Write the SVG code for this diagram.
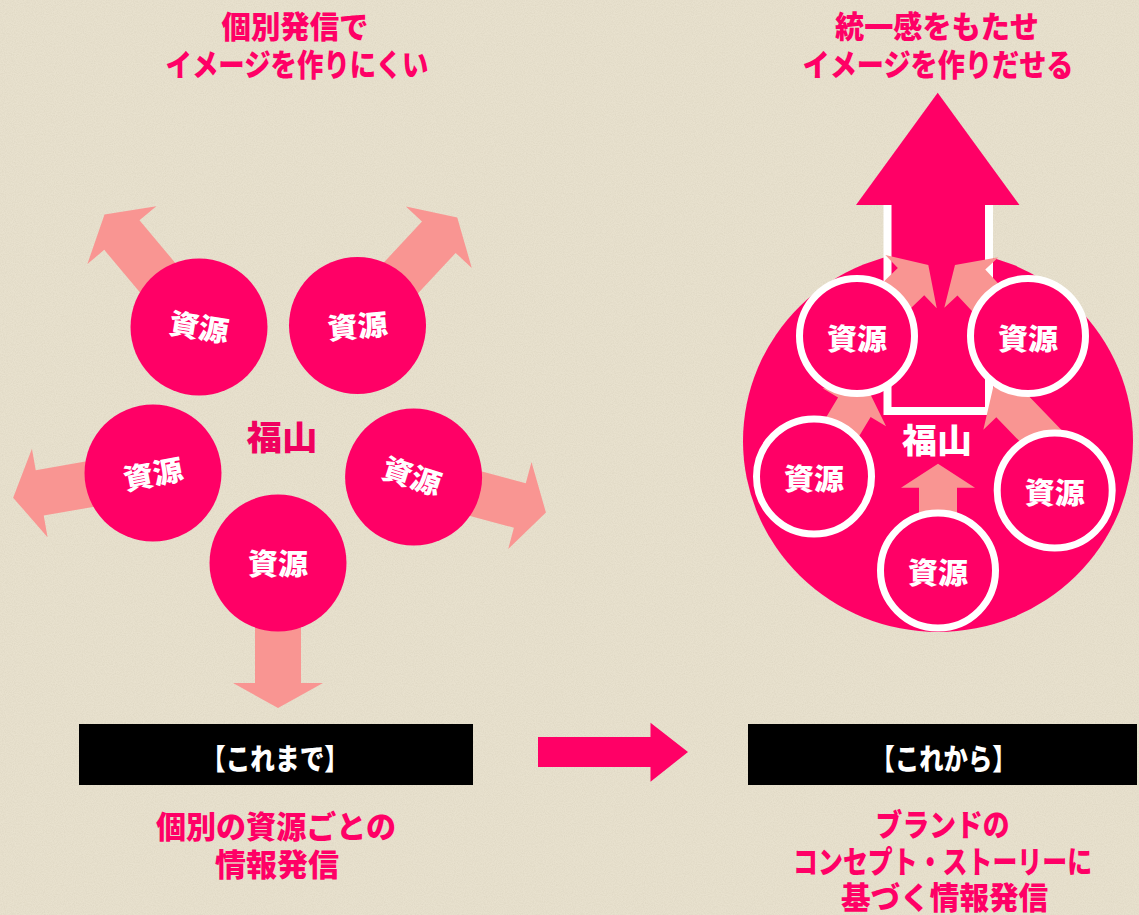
<svg xmlns="http://www.w3.org/2000/svg" width="1139" height="915" viewBox="0 0 1139 915">
<defs>
<style>
.lbl{font-family:"Noto Sans CJK JP","Noto Sans CJK SC",sans-serif;font-weight:900;fill:#ff0066;font-size:31px;text-anchor:middle}
.box{font-family:"Noto Sans CJK JP","Noto Sans CJK SC",sans-serif;font-weight:900;fill:#ffffff;font-size:29px;text-anchor:middle}
.res{font-family:"Noto Sans CJK JP","Noto Sans CJK SC",sans-serif;font-weight:900;fill:#ffffff;font-size:29px;text-anchor:middle}
.fk{font-family:"Noto Sans CJK JP","Noto Sans CJK SC",sans-serif;font-weight:900;font-size:34px;text-anchor:middle}
.pink{fill:#ff0066}
.salmon{fill:#f99592}
.ring{fill:#ff0066;stroke:#ffffff;stroke-width:7}
</style>
<filter id="paper" x="0" y="0" width="100%" height="100%">
<feTurbulence type="fractalNoise" baseFrequency="0.9" numOctaves="2" seed="3" result="n"/>
<feColorMatrix type="matrix" values="0 0 0 0 0.55  0 0 0 0 0.5  0 0 0 0 0.38  0 0 0 -1.1 0.75"/>
</filter>
</defs>
<rect width="1139" height="915" fill="#e8e1ce"/>
<rect width="1139" height="915" filter="url(#paper)" opacity="0.35"/>

<!-- Left: connectors (outward arrows) -->
<g id="left-arrows" class="salmon">
<polygon transform="translate(199,327) rotate(-130)" points="0,-23 120,-23 120,-45 147,0 120,45 120,23 0,23"/>
<polygon transform="translate(357,325) rotate(-47)" points="0,-23 120,-23 120,-45 147,0 120,45 120,23 0,23"/>
<polygon transform="translate(153,473) rotate(170)" points="0,-23 115,-23 115,-45 142,0 115,45 115,23 0,23"/>
<polygon transform="translate(413.6,477) rotate(15)" points="0,-23 110,-23 110,-45 137,0 110,45 110,23 0,23"/>
<polygon transform="translate(278,563) rotate(90)" points="0,-23 120,-23 120,-45 145,0 120,45 120,23 0,23"/>
</g>

<g id="left-res-tl"><circle class="pink" cx="199" cy="327" r="68.5"/><text class="res" transform="translate(199,327) rotate(9)" x="0" y="11" textLength="60" lengthAdjust="spacingAndGlyphs">資源</text></g>
<g id="left-res-tr"><circle class="pink" cx="357.5" cy="325.5" r="68.5"/><text class="res" transform="translate(357.5,326) rotate(-5)" x="0" y="11" textLength="60" lengthAdjust="spacingAndGlyphs">資源</text></g>
<g id="left-res-l"><circle class="pink" cx="153" cy="473" r="68.5"/><text class="res" transform="translate(153,474) rotate(-11)" x="0" y="11" textLength="60" lengthAdjust="spacingAndGlyphs">資源</text></g>
<g id="left-res-r"><circle class="pink" cx="413.6" cy="477" r="68.5"/><text class="res" transform="translate(412,476) rotate(18)" x="0" y="11" textLength="60" lengthAdjust="spacingAndGlyphs">資源</text></g>
<g id="left-res-b"><circle class="pink" cx="278" cy="563" r="68.5"/><text class="res" x="278" y="575" textLength="60" lengthAdjust="spacingAndGlyphs">資源</text></g>
<g id="left-fukuyama"><text class="fk" x="282" y="450" fill="#f0005f" textLength="71" lengthAdjust="spacingAndGlyphs">福山</text></g>

<!-- Right: big circle and arrow -->
<g id="right-fukuyama-area">
<ellipse class="pink" cx="938" cy="441" rx="195" ry="191"/>
</g>
<g id="big-arrow">
<rect x="887.5" y="200" width="101.5" height="211" fill="#ff0066" stroke="#ffffff" stroke-width="8"/>
<polygon class="pink" points="856,205 937.7,92.8 1019.5,205"/>
</g>

<g id="right-arrows" class="salmon">
<polygon transform="translate(938,463.7) rotate(-90)" points="0,0 -24,-37 -24,-19 -69,-19 -69,19 -24,19 -24,37"/>
<polygon transform="translate(866.7,386.7) rotate(-59)" points="0,0 -24,-37 -24,-19 -84,-19 -84,19 -24,19 -24,37"/>
<polygon transform="translate(993.3,386.7) rotate(-134)" points="0,0 -24,-37 -24,-19 -84,-19 -84,19 -24,19 -24,37"/>
<polygon transform="translate(928.3,265) rotate(-44)" points="0,0 -24,-37 -24,-19 -74,-19 -74,19 -24,19 -24,37"/>
<polygon transform="translate(955,265) rotate(-133)" points="0,0 -24,-37 -24,-19 -74,-19 -74,19 -24,19 -24,37"/>
</g>

<g id="right-res-tl"><circle class="ring" cx="857" cy="336" r="57.5"/><text class="res" x="857" y="350" textLength="60" lengthAdjust="spacingAndGlyphs">資源</text></g>
<g id="right-res-tr"><circle class="ring" cx="1028" cy="336" r="57.5"/><text class="res" x="1028" y="350" textLength="60" lengthAdjust="spacingAndGlyphs">資源</text></g>
<g id="right-res-l"><circle class="ring" cx="814" cy="476.5" r="57.5"/><text class="res" x="814" y="490" textLength="60" lengthAdjust="spacingAndGlyphs">資源</text></g>
<g id="right-res-r"><circle class="ring" cx="1054.7" cy="490.5" r="57.5"/><text class="res" x="1054.7" y="504" textLength="60" lengthAdjust="spacingAndGlyphs">資源</text></g>
<g id="right-res-b"><circle class="ring" cx="938" cy="570.5" r="57.5"/><text class="res" x="938" y="584" textLength="60" lengthAdjust="spacingAndGlyphs">資源</text></g>
<g id="right-fukuyama"><text class="fk" x="937" y="453" fill="#ffffff" textLength="70" lengthAdjust="spacingAndGlyphs">福山</text></g>

<!-- Top labels -->
<g id="top-left-label">
<text class="lbl" x="295" y="38" textLength="147" lengthAdjust="spacingAndGlyphs">個別発信で</text>
<text class="lbl" x="297" y="76" textLength="263" lengthAdjust="spacingAndGlyphs">イメージを作りにくい</text>
</g>
<g id="top-right-label">
<text class="lbl" x="937" y="38" textLength="204" lengthAdjust="spacingAndGlyphs">統一感をもたせ</text>
<text class="lbl" x="938" y="76" textLength="271" lengthAdjust="spacingAndGlyphs">イメージを作りだせる</text>
</g>

<!-- Headers -->
<g id="header-before">
<rect x="79" y="724" width="394" height="61" fill="#000000"/>
<text class="box" x="275" y="770" textLength="148" lengthAdjust="spacingAndGlyphs">【これまで】</text>
</g>
<g id="header-after">
<rect x="748" y="724" width="389" height="61" fill="#000000"/>
<text class="box" x="943.6" y="770" textLength="146" lengthAdjust="spacingAndGlyphs">【これから】</text>
</g>
<g id="connectors">
<polygon class="pink" points="538,737 650.5,737 650.5,722.7 688,752 650.5,781.7 650.5,767 538,767"/>
</g>

<!-- Bottom labels -->
<g id="bottom-left-label">
<text class="lbl" x="276" y="838" textLength="240" lengthAdjust="spacingAndGlyphs">個別の資源ごとの</text>
<text class="lbl" x="277" y="876" textLength="124" lengthAdjust="spacingAndGlyphs">情報発信</text>
</g>
<g id="bottom-right-label">
<text class="lbl" x="942.6" y="836" textLength="134" lengthAdjust="spacingAndGlyphs">ブランドの</text>
<text class="lbl" x="942.6" y="873" textLength="299" lengthAdjust="spacingAndGlyphs">コンセプト・ストーリーに</text>
<text class="lbl" x="944.6" y="909" font-size="30" textLength="207" lengthAdjust="spacingAndGlyphs">基づく情報発信</text>
</g>
</svg>
